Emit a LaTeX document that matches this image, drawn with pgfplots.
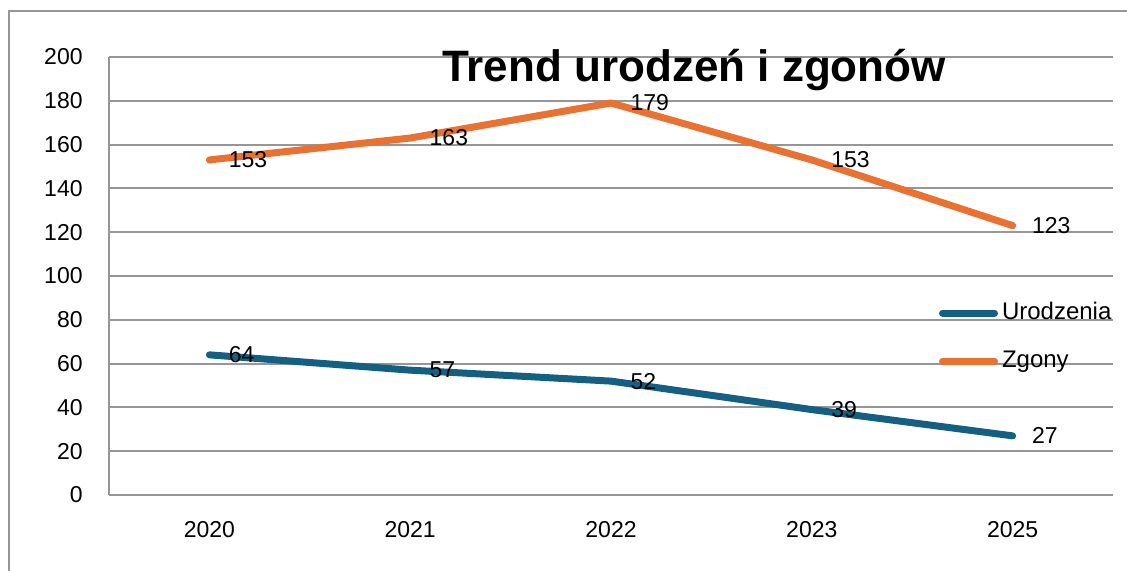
\documentclass[border=0pt]{standalone}
\usepackage{fontspec}
\setmainfont{Liberation Sans}
\usepackage{pgfplots}
\pgfplotsset{compat=1.18}
\definecolor{cblue}{HTML}{156082}
\definecolor{corange}{HTML}{E97132}
\definecolor{cgrid}{RGB}{150,150,150}
\begin{document}
\begin{tikzpicture}
\path[use as bounding box] (0,0) rectangle (563.5pt,285.5pt);
\draw[cgrid, line width=1pt] (4.5pt,-2pt) -- (4.5pt,279.75pt) -- (566pt,279.75pt);
\begin{axis}[
 at={(54.5pt,38pt)}, anchor=south west,
 scale only axis, width=502pt, height=219pt,
 xmin=-0.5, xmax=4.5, ymin=0, ymax=200,
 xtick={0,1,2,3,4}, xticklabels={2020,2021,2022,2023,2025},
 ytick={0,20,...,200},
 axis x line=bottom, axis y line=left,
 axis line style={-, cgrid, line width=1pt},
 major tick length=0pt,
 ymajorgrids, grid style={cgrid, line width=1pt},
 /pgf/number format/assume math mode=true,
 tick label style={font=\fontsize{11.5}{13}\selectfont, inner sep=0pt},
 yticklabel style={anchor=east, xshift=-13pt},
 xticklabel style={anchor=north, yshift=-13pt},
 title={Trend urodzeń i zgonów},
 title style={font=\fontsize{22}{26}\selectfont\bfseries, at={(0.5827,0.9156)}, anchor=base, inner sep=0pt},
 no markers,
 nodes near coords,
 every node near coord/.append style={anchor=west, inner sep=0pt, xshift=8pt, font=\fontsize{11.5}{13}\selectfont, text=black},
 legend cell align=left,
 legend image code/.code={\draw[#1, line width=3.5pt, line cap=round] (0pt,0pt) -- (26pt,0pt);},
 legend style={draw=none, fill=none, at={(0.8267,0.4429)}, anchor=north west, inner sep=0pt, outer sep=0pt,
   font=\fontsize{12}{14}\selectfont, row sep=12pt, column sep=2pt,
   nodes={inner sep=0pt, text height=9pt, text depth=3pt}},
]
\addplot[cblue, line width=3.5pt, line cap=round, line join=round] coordinates {(0,64)(1,57)(2,52)(3,39)(4,27)};
\addlegendentry{Urodzenia}
\addplot[corange, line width=3.5pt, line cap=round, line join=round] coordinates {(0,153)(1,163)(2,179)(3,153)(4,123)};
\addlegendentry{Zgony}
\end{axis}
\end{tikzpicture}
\end{document}
